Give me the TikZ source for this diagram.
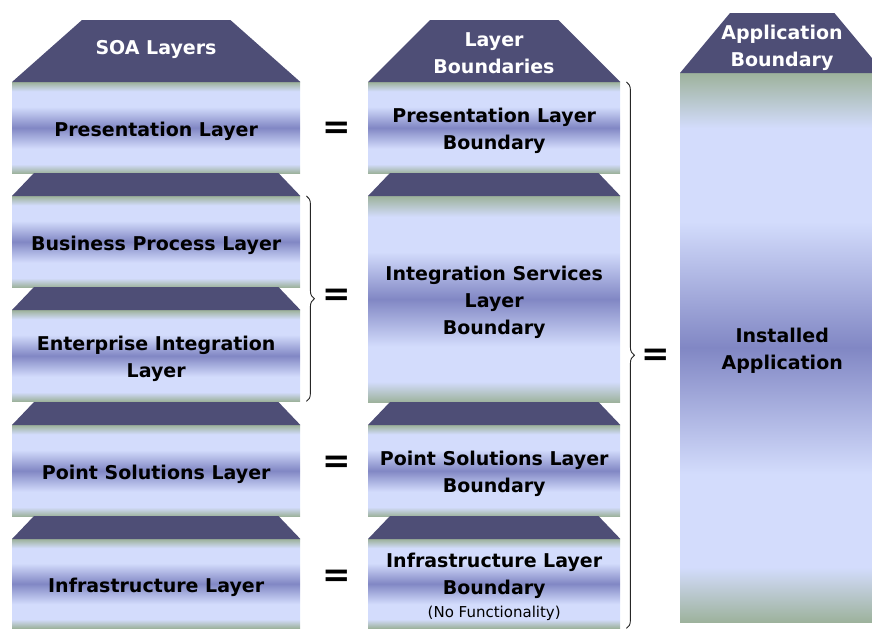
\documentclass[tikz,border=0pt]{standalone}
\usepackage{fontspec}
\setmainfont{DejaVu Sans}
\usetikzlibrary{decorations.pathreplacing}

\definecolor{capblue}{HTML}{4E4E76}
\definecolor{edgegreen}{HTML}{9DB29C}
\definecolor{lightlav}{HTML}{D3DCFC}
\definecolor{midblue}{HTML}{8187C4}

% green rim -> pale lavender -> darker band in the middle -> pale -> green rim
\pgfdeclareverticalshading{layershade}{100bp}{%
  color(0bp)=(edgegreen); color(25bp)=(edgegreen);
  color(30bp)=(lightlav); color(38.5bp)=(lightlav);
  color(50bp)=(midblue);
  color(61.5bp)=(lightlav); color(70bp)=(lightlav);
  color(75bp)=(edgegreen); color(100bp)=(edgegreen)}

\newcommand\boxfont{\fontsize{19}{27}\selectfont\bfseries}
\newcommand\notefont{\fontsize{15}{18}\selectfont\mdseries}
\newcommand\eqfont{\fontsize{34}{34}\selectfont\bfseries}

\tikzset{
  layerbox/.style={shading=layershade, draw=none, inner sep=0pt, anchor=north west},
  boxtext/.style={font=\boxfont, align=center, text=black, yshift=-3.5pt},
  headtext/.style={font=\boxfont, align=center, text=white, inner sep=0pt},
  capfill/.style={fill=capblue},
  eqsign/.style={font=\eqfont, inner sep=0pt},
  bracket/.style={decorate, decoration={brace, amplitude=8pt}, line width=0.9pt, draw=black!85},
}

% small dark slab sitting on top of a layer box
\newcommand\stackcap[1]{%
  \fill[capfill] (#1.north west) -- ([shift={(22pt,23pt)}]#1.north west)
    -- ([shift={(-22pt,23pt)}]#1.north east) -- (#1.north east) -- cycle;}
% column heading slab: node, side inset, height
\newcommand\headcap[3]{%
  \fill[capfill] (#1.north west) -- ([shift={(#2,#3)}]#1.north west)
    -- ([shift={(-#2,#3)}]#1.north east) -- (#1.north east) -- cycle;}

\begin{document}
\begin{tikzpicture}[x=1pt, y=-1pt]
\useasboundingbox (0,0) rectangle (872,629);
\clip (0,0) rectangle (872,629);

% ---- SOA layers column
\node[layerbox, minimum width=288pt, minimum height=91pt,
      label={[boxtext]center:Presentation Layer}] (pres1) at (12,82) {};
\node[layerbox, minimum width=288pt, minimum height=91pt,
      label={[boxtext]center:Business Process Layer}] (bp1) at (12,196) {};
\node[layerbox, minimum width=288pt, minimum height=91pt,
      label={[boxtext]center:{Enterprise Integration\\Layer}}] (ei1) at (12,310) {};
\node[layerbox, minimum width=288pt, minimum height=91pt,
      label={[boxtext]center:Point Solutions Layer}] (ps1) at (12,425) {};
\node[layerbox, minimum width=288pt, minimum height=89pt,
      label={[boxtext]center:Infrastructure Layer}] (inf1) at (12,539) {};
\headcap{pres1}{70pt}{62pt}
\stackcap{bp1}
\stackcap{ei1}
\stackcap{ps1}
\stackcap{inf1}
\node[headtext] (head1) at (156,49) {SOA Layers};

% ---- layer boundaries column
\node[layerbox, minimum width=252pt, minimum height=91pt,
      label={[boxtext]center:{Presentation Layer\\Boundary}}] (pres2) at (368,82) {};
\node[layerbox, minimum width=252pt, minimum height=206pt,
      label={[boxtext]center:{Integration Services\\Layer\\Boundary}}] (is2) at (368,196) {};
\node[layerbox, minimum width=252pt, minimum height=91pt,
      label={[boxtext]center:{Point Solutions Layer\\Boundary}}] (ps2) at (368,425) {};
\node[layerbox, minimum width=252pt, minimum height=89pt,
      label={[boxtext]center:{Infrastructure Layer\\Boundary\\[-4pt]{\notefont (No Functionality)}}}] (inf2) at (368,539) {};
\headcap{pres2}{62pt}{62pt}
\stackcap{is2}
\stackcap{ps2}
\stackcap{inf2}
\node[headtext] (head2) at (494,53) {Layer\\Boundaries};

% ---- application boundary column
\node[layerbox, minimum width=204pt, minimum height=549pt,
      label={[boxtext]center:{Installed\\Application}}] (app) at (680,73) {};
\headcap{app}{50pt}{60pt}
\node[headtext] (head3) at (782,48) {Application\\Boundary};

% ---- equivalences
\node[eqsign] (eqpres) at (337,130) {=};
\node[eqsign] (eqint)  at (337,297) {=};
\node[eqsign] (eqps)   at (337,464) {=};
\node[eqsign] (eqinf)  at (337,578) {=};
\node[eqsign] (eqapp)  at (656,357) {=};

% ---- grouping braces
\draw[bracket] ([xshift=6pt]bp1.north east) -- ([xshift=6pt]ei1.south east);
\draw[bracket] ([xshift=6pt]pres2.north east) -- ([xshift=6pt]inf2.south east);
\end{tikzpicture}
\end{document}
